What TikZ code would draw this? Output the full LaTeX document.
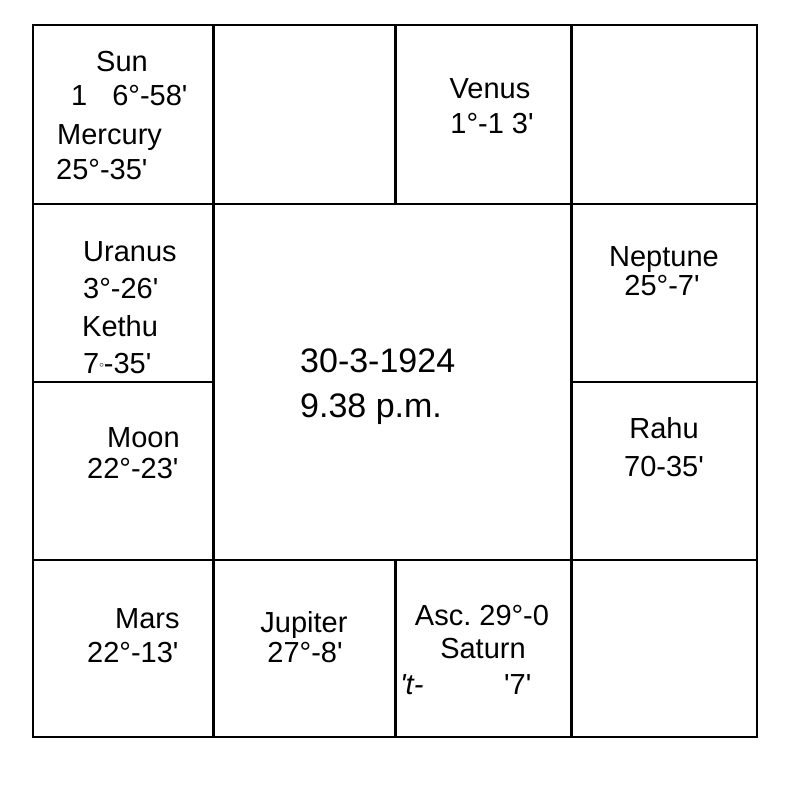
\documentclass[tikz,border=0pt]{standalone}
\usepackage{fontspec}
\setmainfont{Liberation Sans}[Ligatures=TeXOff]
\usetikzlibrary{positioning}
\definecolor{Ink}{HTML}{000000}
\definecolor{Paper}{HTML}{FFFFFF}
\frenchspacing
\tikzset{
    gridline/.style={line width=2.5pt, draw=Ink},
    house/.style={inner sep=0pt, text=Ink, font=\fontsize{29}{35}\selectfont, anchor=base},
    housel/.style={house, anchor=base west},
    datenode/.style={inner sep=0pt, text=Ink, font=\fontsize{34}{43}\selectfont, anchor=base west},
}

\begin{document}
\begin{tikzpicture}[x=1pt, y=-1pt]
            \fill[Paper] (0,0) rectangle (812,795);
            \useasboundingbox (0,0) rectangle (812,795);

            % Griglia
            \draw[gridline] (33,25) rectangle (757,737);
            \draw[gridline] (213.5,25) -- (213.5,737);
            \draw[gridline] (571.5,25) -- (571.5,737);
            \draw[gridline] (33,204) -- (757,204);
            \draw[gridline] (33,560) -- (757,560);
            \draw[gridline] (395.5,25) -- (395.5,204);
            \draw[gridline] (395.5,560) -- (395.5,737);
            \draw[gridline] (33,382) -- (213.5,382);
            \draw[gridline] (571.5,382) -- (757,382);

            % Riga in alto
            \node[housel] (sun) at (96,71) {Sun};
            \node[housel] (sundeg) at (71,105) {1\hspace{25pt}6°-58'};
            \node[housel] (mercury) at (57,144) {Mercury};
            \node[housel] (mercurydeg) at (56,179) {25°-35'};
            \node[house] (venus) at (490,98) {Venus};
            \node[house] (venusdeg) at (492,133) {1°-1 3'};

            % Colonna sinistra
            \node[housel] (uranus) at (83,261) {Uranus};
            \node[housel] (uranusdeg) at (83,298) {3°-26'};
            \node[housel] (kethu) at (82,336) {Kethu};
            \node[housel] (kethudeg) at (83,373) {7\raisebox{6pt}{\fontsize{9}{9}\selectfont$\circ$}-35'};
            \node[housel] (moon) at (107,447) {Moon};
            \node[housel] (moondeg) at (87,478) {22°-23'};

            % Colonna destra
            \node[house] (neptune) at (664,266) {Neptune};
            \node[house] (neptunedeg) at (662,295) {25°-7'};
            \node[house] (rahu) at (664,438) {Rahu};
            \node[house] (rahudeg) at (664,476) {70-35'};

            % Riga in basso
            \node[housel] (mars) at (115,628) {Mars};
            \node[housel] (marsdeg) at (87,662) {22°-13'};
            \node[house] (jupiter) at (304,632) {Jupiter};
            \node[house] (jupiterdeg) at (305,662) {27°-8'};
            \node[house] (asc) at (482,625) {Asc. 29°-0};
            \node[house] (saturn) at (483,658) {Saturn};
            \node[housel, font=\fontsize{29}{35}\selectfont\itshape] (saturnl) at (400,694) {'t-};
            \node[housel] (saturndeg) at (504,694) {'7'};

            % Data al centro
            \node[datenode] (date) at (300,372) {30-3-1924};
            \node[datenode] (time) at (300,417) {9.38 p.m.};
        \end{tikzpicture}
\end{document}
